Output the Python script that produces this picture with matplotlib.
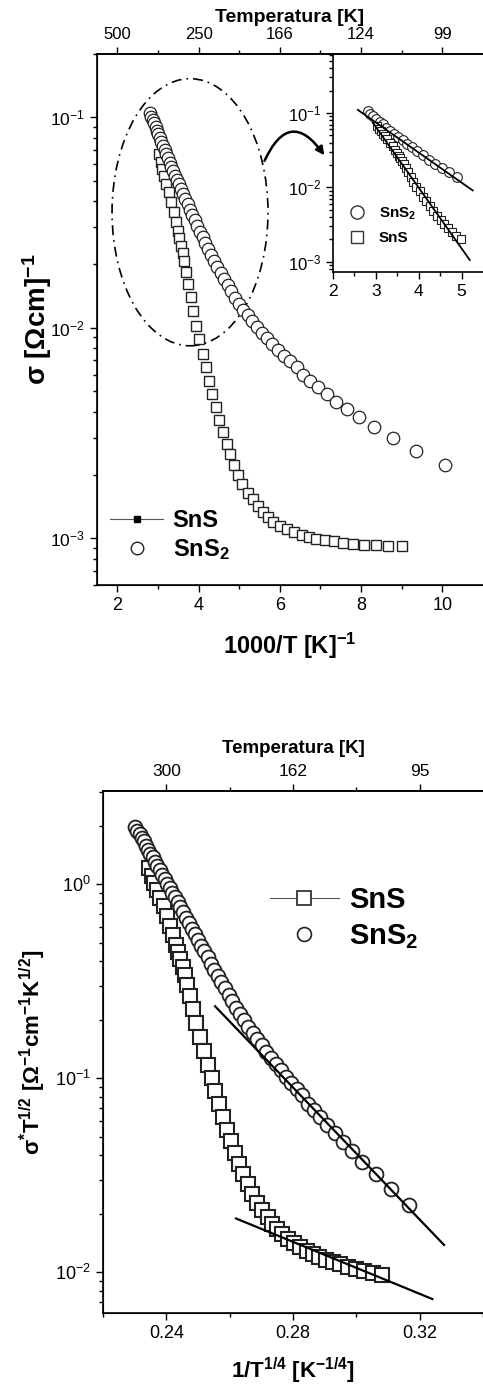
import numpy as np
import matplotlib.pyplot as plt
from matplotlib.lines import Line2D
from matplotlib.patches import Ellipse, FancyArrowPatch
from matplotlib.ticker import LogLocator, NullFormatter, FixedLocator

plt.rcParams['font.family'] = 'Liberation Sans'
plt.rcParams['mathtext.fontset'] = 'custom'
plt.rcParams['mathtext.rm'] = 'Liberation Sans'
plt.rcParams['mathtext.it'] = 'Liberation Sans:italic'
plt.rcParams['mathtext.bf'] = 'Liberation Sans:bold'

# 1000/T [1/K] and sigma [1/(Ohm cm)]
invT_sns2 = [2.809, 2.841, 2.874, 2.907, 2.941, 2.976, 3.012, 3.049, 3.086, 3.125,
             3.165, 3.205, 3.247, 3.289, 3.333, 3.378, 3.425, 3.472, 3.521, 3.571,
             3.623, 3.676, 3.731, 3.788, 3.846, 3.906, 3.968, 4.032, 4.098, 4.167,
             4.237, 4.310, 4.386, 4.464, 4.545, 4.630, 4.717, 4.808, 4.902, 5.000,
             5.102, 5.208, 5.319, 5.435, 5.556, 5.682, 5.814, 5.952, 6.098, 6.250,
             6.410, 6.57, 6.75, 6.94, 7.16, 7.39, 7.65, 7.95, 8.31, 8.79, 9.36, 10.06]
sig_sns2 = [0.1047, 0.1009, 0.0973, 0.0938, 0.0902, 0.0865, 0.0830, 0.0796, 0.0766, 0.0733,
            0.0701, 0.0670, 0.0638, 0.0610, 0.0579, 0.0555, 0.0528, 0.0504, 0.0480, 0.0456,
            0.0432, 0.0408, 0.0386, 0.0364, 0.0344, 0.0324, 0.0304, 0.0286, 0.0269, 0.0252,
            0.0236, 0.0221, 0.0207, 0.0194, 0.0182, 0.0170, 0.0159, 0.0149, 0.0139, 0.0130,
            0.0122, 0.0115, 0.0108, 0.0101, 0.00948, 0.00891, 0.00837, 0.00785, 0.00738, 0.00693,
            0.00652, 0.00597, 0.00561, 0.00526, 0.00485, 0.00446, 0.0041, 0.00377, 0.00338,
            0.00299, 0.00260, 0.00223]

invT_sns = [3.03, 3.07, 3.11, 3.16, 3.21, 3.27, 3.33, 3.39, 3.44, 3.49,
            3.53, 3.57, 3.61, 3.65, 3.70, 3.75, 3.81, 3.87, 3.94, 4.02,
            4.10, 4.18, 4.26, 4.34, 4.43, 4.51, 4.60, 4.69, 4.78, 4.88,
            4.98, 5.08, 5.21, 5.33, 5.47, 5.59, 5.71, 5.84, 6.00, 6.17,
            6.35, 6.54, 6.72, 6.90, 7.12, 7.34, 7.56, 7.81, 8.08, 8.36, 8.67, 9.00]
sig_sns = [0.0667, 0.0614, 0.0569, 0.0525, 0.0484, 0.0442, 0.0398, 0.0355, 0.0320, 0.0288,
           0.0266, 0.0245, 0.0226, 0.0207, 0.0184, 0.0162, 0.0140, 0.0120, 0.0102, 0.00881,
           0.00752, 0.0065, 0.00561, 0.00485, 0.00419, 0.00365, 0.00321, 0.00282, 0.00251, 0.00223,
           0.00200, 0.00181, 0.00164, 0.00153, 0.00142, 0.00133, 0.00126, 0.00120, 0.00115, 0.00111,
           0.00107, 0.00104, 0.00101, 0.000993, 0.000979, 0.000968, 0.000953, 0.000940, 0.000931,
           0.000925, 0.000920, 0.000916]

# straight line fits (end points)
fit_inset_sns2_x = [2.58, 5.26]
fit_inset_sns2_y = [0.11, 0.0091]
fit_inset_sns_x = [2.93, 5.19]
fit_inset_sns_y = [0.074, 0.00106]
fit_mott_sns2_x = [0.2554, 0.3277]
fit_mott_sns2_y = [0.235, 0.0138]
fit_mott_sns_x = [0.2620, 0.3240]
fit_mott_sns_y = [0.0189, 0.00726]

top_ticks_a = [2, 4, 6, 8, 10]
top_labels_a = ['500', '250', '166', '124', '99']
top_ticks_b = [0.24, 0.28, 0.32]
top_labels_b = ['300', '162', '95']

invT_sns2 = np.array(invT_sns2)
sig_sns2 = np.array(sig_sns2)
invT_sns = np.array(invT_sns)
sig_sns = np.array(sig_sns)

# Mott variables for the lower panel
T_sns2 = 1000.0 / invT_sns2
T_sns = 1000.0 / invT_sns
mx_sns2 = T_sns2 ** -0.25
my_sns2 = sig_sns2 * np.sqrt(T_sns2)
mx_sns = T_sns ** -0.25
my_sns = sig_sns * np.sqrt(T_sns)

W, H = 483, 1391
fig = plt.figure(figsize=(W / 100, H / 100), dpi=100)


def box(l, t, r, b):
    return [l / W, 1 - b / H, (r - l) / W, (b - t) / H]


def style_log(ax, size):
    ax.yaxis.set_minor_locator(LogLocator(base=10, subs=np.arange(2, 10), numticks=20))
    ax.yaxis.set_minor_formatter(NullFormatter())
    ax.tick_params(which='both', direction='out', width=1.0, labelsize=size)
    ax.tick_params(which='major', length=5)
    ax.tick_params(which='minor', length=3)
    for s in ax.spines.values():
        s.set_linewidth(1.2)
    ax.spines['right'].set_visible(False)


def style_top(tw, size):
    tw.tick_params(which='both', direction='out', width=1.0, labelsize=size)
    tw.tick_params(which='major', length=5)
    tw.tick_params(which='minor', length=3)
    tw.spines['right'].set_visible(False)
    tw.spines['top'].set_linewidth(1.2)


mk = dict(mfc='white', mec='#222222', ls='none')

# ---------------- upper panel ----------------
ax1 = fig.add_axes(box(97, 54, 483, 585))
ax1.set_yscale('log')
ax1.plot(invT_sns, sig_sns, marker='s', ms=7.5, mew=1.0, **mk)
ax1.plot(invT_sns2, sig_sns2, marker='o', ms=9, mew=0.9, **mk)
ax1.set_xlim(1.5, 11.0)
ax1.set_ylim(6e-4, 0.2)
ax1.xaxis.set_major_locator(FixedLocator([2, 4, 6, 8, 10]))
ax1.xaxis.set_minor_locator(FixedLocator([3, 5, 7, 9]))
style_log(ax1, 12.5)
ax1.tick_params(axis='x', labelsize=13)
ax1.set_xlabel(r'$\mathbf{1000/T\ [K]^{-1}}$', fontsize=17, labelpad=12)
ax1.set_ylabel(r'$\mathbf{\sigma\ [\Omega cm]^{-1}}$', fontsize=20)
ax1.yaxis.set_label_coords(-0.112, 0.5)

ax1.add_patch(Ellipse((0.241, 0.702), 0.404, 0.503, transform=ax1.transAxes,
                      fill=False, ls=(0, (6, 3, 1, 3)), lw=1.2, color='k'))
ax1.add_patch(FancyArrowPatch((0.431, 0.794), (0.593, 0.805), transform=ax1.transAxes,
                              connectionstyle='arc3,rad=-0.9', arrowstyle='-|>',
                              mutation_scale=12, lw=1.8, color='k'))

h1 = [Line2D([], [], color='#555555', lw=0.8, marker='s', ms=5, mfc='k', mec='k'),
      Line2D([], [], ls='none', marker='o', ms=9, mfc='white', mec='#222222')]
ax1.legend(h1, ['SnS', r'$\mathbf{SnS_2}$'], loc='center left', bbox_to_anchor=(0.034, 0.093),
           frameon=False, prop={'weight': 'bold', 'size': 17}, handlelength=2.25,
           handletextpad=0.4, borderpad=0, borderaxespad=0, labelspacing=0.2)

t1 = ax1.twiny()
t1.set_xlim(ax1.get_xlim())
t1.xaxis.set_major_locator(FixedLocator(top_ticks_a))
t1.set_xticklabels(top_labels_a)
t1.xaxis.set_minor_locator(FixedLocator([3, 5, 7, 9]))
style_top(t1, 12)
t1.set_xlabel('Temperatura [K]', fontsize=14, fontweight='bold', labelpad=4)

# inset
ins = fig.add_axes(box(333, 54, 483, 272))
ins.patch.set_alpha(0)
ins.set_yscale('log')
sel2 = invT_sns2 <= 5.05
sel1 = invT_sns <= 5.05
ins.plot(invT_sns2[sel2][::2], sig_sns2[sel2][::2], marker='o', ms=7, mew=0.8, **mk)
ins.plot(invT_sns[sel1], sig_sns[sel1], marker='s', ms=6, mew=0.8, **mk)
ins.plot(fit_inset_sns2_x, fit_inset_sns2_y, color='k', lw=1.3)
ins.plot(fit_inset_sns_x, fit_inset_sns_y, color='k', lw=1.3)
ins.set_xlim(2, 5.5)
ins.set_ylim(7.3e-4, 0.62)
ins.xaxis.set_major_locator(FixedLocator([2, 3, 4, 5]))
ins.xaxis.set_minor_locator(FixedLocator([2.5, 3.5, 4.5]))
style_log(ins, 12)
ins.tick_params(axis='x', labelsize=12.5)
ins.spines['top'].set_visible(False)
h2 = [Line2D([], [], ls='none', marker='o', ms=9.5, mfc='white', mec='#333333'),
      Line2D([], [], ls='none', marker='s', ms=9, mfc='white', mec='#333333')]
ins.legend(h2, [r'$\mathbf{SnS_2}$', 'SnS'], loc='center left', bbox_to_anchor=(0.1, 0.215),
           frameon=False, prop={'weight': 'bold', 'size': 11}, handlelength=1.2,
           handletextpad=0.8, borderpad=0, borderaxespad=0, labelspacing=0.6)

# ---------------- lower panel ----------------
ax2 = fig.add_axes(box(103, 791, 483, 1313))
ax2.set_yscale('log')
ax2.plot(mx_sns, my_sns, marker='s', ms=9.5, mew=1.5, **mk)
ax2.plot(mx_sns2, my_sns2, marker='o', ms=10, mew=1.3, **mk)
ax2.plot(fit_mott_sns2_x, fit_mott_sns2_y, color='k', lw=1.6)
ax2.plot(fit_mott_sns_x, fit_mott_sns_y, color='k', lw=1.6)
ax2.set_xlim(0.22, 0.34)
ax2.set_ylim(0.00615, 3.03)
ax2.xaxis.set_major_locator(FixedLocator([0.24, 0.28, 0.32]))
ax2.xaxis.set_minor_locator(FixedLocator([0.22, 0.26, 0.30, 0.34]))
ax2.xaxis.set_major_formatter(plt.FuncFormatter(lambda v, p: f'{v:.2f}'))
style_log(ax2, 13)
ax2.tick_params(axis='x', labelsize=13)
ax2.set_xlabel(r'$\mathbf{1/T^{1/4}\ [K^{-1/4}]}$', fontsize=16, labelpad=10)
ax2.set_ylabel(r'$\mathbf{\sigma^{*}T^{1/2}\ [\Omega^{-1}cm^{-1}K^{1/2}]}$', fontsize=16)
ax2.yaxis.set_label_coords(-0.145, 0.5)

h3 = [Line2D([], [], color='#555555', lw=0.8, marker='s', ms=9.5, mfc='white', mec='#222222', mew=1.2),
      Line2D([], [], ls='none', marker='o', ms=10, mfc='white', mec='#222222', mew=1.2)]
ax2.legend(h3, ['SnS', r'$\mathbf{SnS_2}$'], loc='center left', bbox_to_anchor=(0.44, 0.755),
           frameon=False, prop={'weight': 'bold', 'size': 21}, handlelength=2.35,
           handletextpad=0.35, borderpad=0, borderaxespad=0, labelspacing=0.28)

t2 = ax2.twiny()
t2.set_xlim(ax2.get_xlim())
t2.xaxis.set_major_locator(FixedLocator(top_ticks_b))
t2.set_xticklabels(top_labels_b)
t2.xaxis.set_minor_locator(FixedLocator([0.26, 0.30]))
style_top(t2, 12.5)
t2.set_xlabel('Temperatura [K]', fontsize=13.5, fontweight='bold', labelpad=8)

fig.savefig('out.png', dpi=100)
